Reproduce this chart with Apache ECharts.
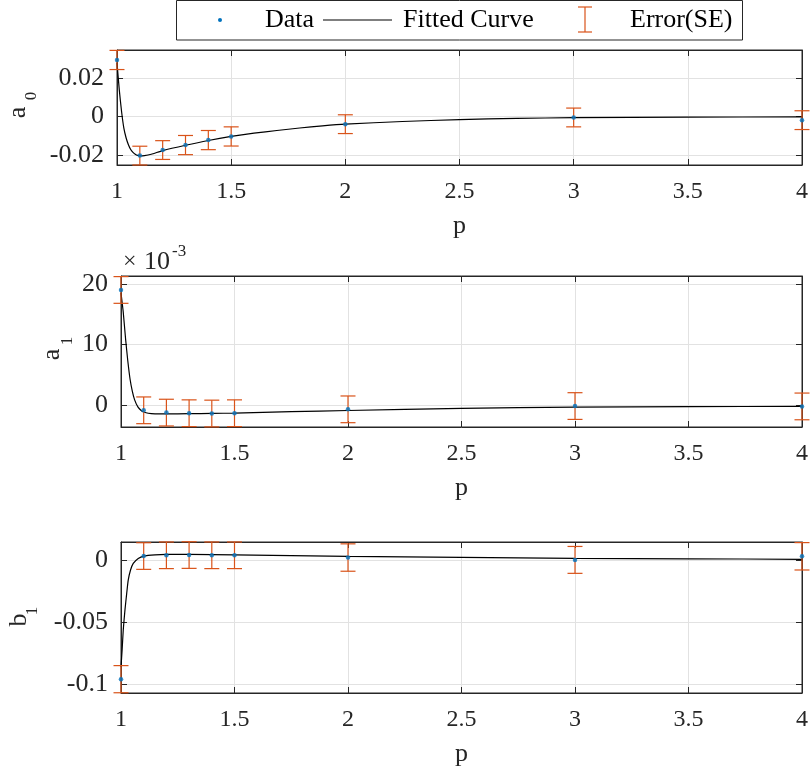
<!DOCTYPE html>
<html>
<head>
<meta charset="utf-8">
<script src="https://cdn.jsdelivr.net/npm/echarts@6/dist/echarts.min.js"></script>
<style>html,body{margin:0;padding:0;background:#fff;}#c{width:811px;height:773px;}</style>
</head>
<body>
<div id="c"></div>
<script>
// ---- data ----
const p = [1, 1.1, 1.2, 1.3, 1.4, 1.5, 2, 3, 4];
const xTicks = ['1', '1.5', '2', '2.5', '3', '3.5', '4'];

const a0 = [0.0295, -0.0204, -0.0175, -0.0149, -0.0123, -0.0104, -0.0040, -0.0005, -0.0019];
const a0SE = [0.0050, 0.0049, 0.0049, 0.0050, 0.0050, 0.0050, 0.0049, 0.0049, 0.0049];
const a0FitP = [1, 1.01, 1.02, 1.03, 1.04, 1.05, 1.06, 1.07, 1.08, 1.09, 1.1, 1.12, 1.15, 1.2, 1.3, 1.4, 1.5, 1.6, 1.7, 1.8, 1.9, 2, 2.25, 2.5, 2.75, 3, 3.5, 4];
const a0Fit = [0.0280, 0.0139, 0.0026, -0.0061, -0.0112, -0.0147, -0.0172, -0.0187, -0.0197, -0.0203, -0.0205, -0.0204, -0.0197, -0.0178, -0.0150, -0.0125, -0.0104, -0.0087, -0.0073, -0.0060, -0.0049, -0.0040, -0.0026, -0.0016, -0.0010, -0.0006, -0.0003, -0.0002];

// a1 in units of 1e-3
const a1 = [19.0, -0.82, -1.2, -1.3, -1.35, -1.3, -0.66, -0.12, -0.18];
const a1SE = [2.2, 2.2, 2.2, 2.2, 2.2, 2.2, 2.2, 2.2, 2.2];
const a1FitP = [1, 1.01, 1.02, 1.03, 1.04, 1.05, 1.06, 1.075, 1.09, 1.1, 1.12, 1.15, 1.2, 1.3, 1.4, 1.5, 1.75, 2, 2.5, 3, 3.5, 4];
const a1Fit = [18.5, 15.3, 11.0, 7.3, 4.3, 2.3, 0.9, -0.3, -0.9, -1.1, -1.3, -1.4, -1.42, -1.38, -1.33, -1.27, -1.05, -0.85, -0.5, -0.3, -0.22, -0.17];

const b1 = [-0.0957, 0.0032, 0.0038, 0.0040, 0.0038, 0.0038, 0.0020, 0.0001, 0.0030];
const b1SE = [0.0109, 0.0107, 0.0107, 0.0107, 0.0107, 0.0107, 0.0110, 0.0108, 0.0110];
const b1FitP = [1, 1.005, 1.01, 1.0175, 1.025, 1.032, 1.042, 1.054, 1.076, 1.1, 1.15, 1.2, 1.3, 1.5, 2, 2.5, 3, 3.5, 4];
const b1Fit = [-0.0858, -0.072, -0.056, -0.040, -0.027, -0.016, -0.008, -0.0027, 0.0013, 0.0032, 0.0042, 0.0045, 0.0045, 0.0042, 0.0030, 0.0021, 0.0014, 0.0010, 0.0006];

const yRanges = [[-0.0253, 0.0347], [-3.57, 21.3], [-0.1068, 0.01448]];
const yLetters = ['a', 'a', 'b'];
const ySubs = ['0', '1', '1'];
const legendNames = ['Data', 'Fitted Curve', 'Error(SE)'];

// ---- styling ----
const FONT = 'Liberation Serif';
const TXT = '#262626';
const GRIDC = '#e2e2e2';
const BLUE = '#0072BD';
const ORANGE = '#D95319';

const gridBase = {right: 9, show: true, borderColor: TXT, borderWidth: 1, containLabel: false, outerBoundsMode: 'none'};
const grids = [
  Object.assign({left: 117, top: 50, height: 115}, gridBase),
  Object.assign({left: 121, top: 276, height: 151}, gridBase),
  Object.assign({left: 121, top: 542, height: 151}, gridBase)
];
// y-label glyph anchor positions [letterX, letterY, subX, subY]
const yLabelPos = [[18, 112.5, 32, 96], [52.5, 354.5, 68, 341], [19.5, 620, 32.2, 611]];

const sets = [
  {v: a0, se: a0SE, fp: a0FitP, f: a0Fit},
  {v: a1, se: a1SE, fp: a1FitP, f: a1Fit},
  {v: b1, se: b1SE, fp: b1FitP, f: b1Fit}
];

const xAxes = [], yAxes = [], series = [];
const tickLine = {show: true, inside: true, length: 6, lineStyle: {color: TXT, width: 1}};
const axLine = {show: true, onZero: false, lineStyle: {color: TXT}};

grids.forEach((g, i) => {
  xAxes.push({
    gridIndex: i, type: 'value', min: 1, max: 4, interval: 0.5, position: 'bottom',
    axisLine: axLine,
    axisTick: tickLine,
    axisLabel: {fontFamily: FONT, fontSize: 24, color: TXT, margin: 15,
      formatter: v => xTicks[Math.round((v - 1) / 0.5)] || ''},
    splitLine: {show: true, lineStyle: {color: GRIDC}},
    name: 'p', nameLocation: 'middle', nameGap: 48,
    nameTextStyle: {fontFamily: FONT, fontSize: 26, color: TXT}
  });
  xAxes.push({
    gridIndex: i, type: 'value', min: 1, max: 4, interval: 0.5, position: 'top',
    axisLine: axLine,
    axisTick: tickLine, axisLabel: {show: false}, splitLine: {show: false}
  });
  yAxes.push({
    gridIndex: i, type: 'value', min: yRanges[i][0], max: yRanges[i][1], splitNumber: 3, position: 'left',
    axisLine: axLine,
    axisTick: tickLine,
    axisLabel: {fontFamily: FONT, fontSize: 26, color: TXT, margin: 13, showMinLabel: false, showMaxLabel: false},
    splitLine: {show: true, lineStyle: {color: GRIDC}}
  });
  yAxes.push({
    gridIndex: i, type: 'value', min: yRanges[i][0], max: yRanges[i][1], splitNumber: 3, position: 'right',
    axisLine: axLine,
    axisTick: tickLine, axisLabel: {show: false}, splitLine: {show: false}
  });

  const s = sets[i];
  series.push({
    name: 'Data', type: 'scatter', xAxisIndex: 2 * i, yAxisIndex: 2 * i,
    symbol: 'circle', symbolSize: 4.5, itemStyle: {color: BLUE},
    data: p.map((x, k) => [x, s.v[k]]), z: 6
  });
  series.push({
    name: 'Fitted Curve', type: 'line', xAxisIndex: 2 * i, yAxisIndex: 2 * i,
    symbol: 'none', smooth: 0.2,
    lineStyle: {color: '#000', width: 1.2},
    data: s.fp.map((x, k) => [x, s.f[k]]), z: 4
  });
  series.push({
    name: 'Error(SE)', type: 'custom', xAxisIndex: 2 * i, yAxisIndex: 2 * i,
    data: p.map((x, k) => [x, s.v[k], s.se[k]]),
    encode: {x: 0, y: 1},
    z: 5,
    renderItem: (params, api) => {
      const x = api.value(0), y = api.value(1), e = api.value(2);
      const t = api.coord([x, y + e]);
      const b = api.coord([x, y - e]);
      const hw = 7.5;
      const st = {stroke: ORANGE, lineWidth: 1.2};
      return {type: 'group', children: [
        {type: 'line', shape: {x1: t[0], y1: t[1], x2: b[0], y2: b[1]}, style: st},
        {type: 'line', shape: {x1: t[0] - hw, y1: t[1], x2: t[0] + hw, y2: t[1]}, style: st},
        {type: 'line', shape: {x1: b[0] - hw, y1: b[1], x2: b[0] + hw, y2: b[1]}, style: st}
      ]};
    }
  });
});

// legend box (drawn as graphic)
const LY = 20;
const graphic = [
  {type: 'rect', shape: {x: 176.5, y: 0.5, width: 566, height: 39.5}, style: {fill: '#fff', stroke: TXT, lineWidth: 1}, z: 10},
  {type: 'circle', shape: {cx: 220, cy: LY, r: 2}, style: {fill: BLUE}, z: 11},
  {type: 'text', x: 265, y: LY, style: {text: legendNames[0], font: '26px "Liberation Serif"', fill: '#000', verticalAlign: 'middle'}, z: 11},
  {type: 'line', shape: {x1: 323, y1: LY, x2: 392, y2: LY}, style: {stroke: '#000', lineWidth: 1.2}, z: 11},
  {type: 'text', x: 403, y: LY, style: {text: legendNames[1], font: '26px "Liberation Serif"', fill: '#000', verticalAlign: 'middle'}, z: 11},
  {type: 'line', shape: {x1: 585, y1: 7, x2: 585, y2: 32}, style: {stroke: ORANGE, lineWidth: 1.2}, z: 11},
  {type: 'line', shape: {x1: 578, y1: 7, x2: 592, y2: 7}, style: {stroke: ORANGE, lineWidth: 1.2}, z: 11},
  {type: 'line', shape: {x1: 578, y1: 32, x2: 592, y2: 32}, style: {stroke: ORANGE, lineWidth: 1.2}, z: 11},
  {type: 'text', x: 630, y: LY, style: {text: legendNames[2], font: '26px "Liberation Serif"', fill: '#000', verticalAlign: 'middle'}, z: 11},
  // exponent label for a1 axis
  {type: 'text', x: 123, y: 262, style: {text: '×', font: '24px "Liberation Serif"', fill: TXT, verticalAlign: 'middle'}},
  {type: 'text', x: 144, y: 262, style: {text: '10', font: '26px "Liberation Serif"', fill: TXT, verticalAlign: 'middle'}},
  {type: 'text', x: 172, y: 252, style: {text: '-3', font: '17px "Liberation Serif"', fill: TXT, verticalAlign: 'middle'}}
];
// y-axis labels with subscripts
yLabelPos.forEach((q, i) => {
  graphic.push({type: 'text', x: q[0], y: q[1], rotation: Math.PI / 2,
    style: {text: yLetters[i], font: '26px "Liberation Serif"', fill: TXT, align: 'center', verticalAlign: 'middle'}});
  graphic.push({type: 'text', x: q[2], y: q[3], rotation: Math.PI / 2,
    style: {text: ySubs[i], font: '17px "Liberation Serif"', fill: TXT, align: 'center', verticalAlign: 'middle'}});
});

const chart = echarts.init(document.getElementById('c'), null, {renderer: 'canvas'});
chart.setOption({
  animation: false,
  backgroundColor: '#fff',
  grid: grids,
  xAxis: xAxes,
  yAxis: yAxes,
  series: series,
  graphic: graphic
});
</script>
</body>
</html>
